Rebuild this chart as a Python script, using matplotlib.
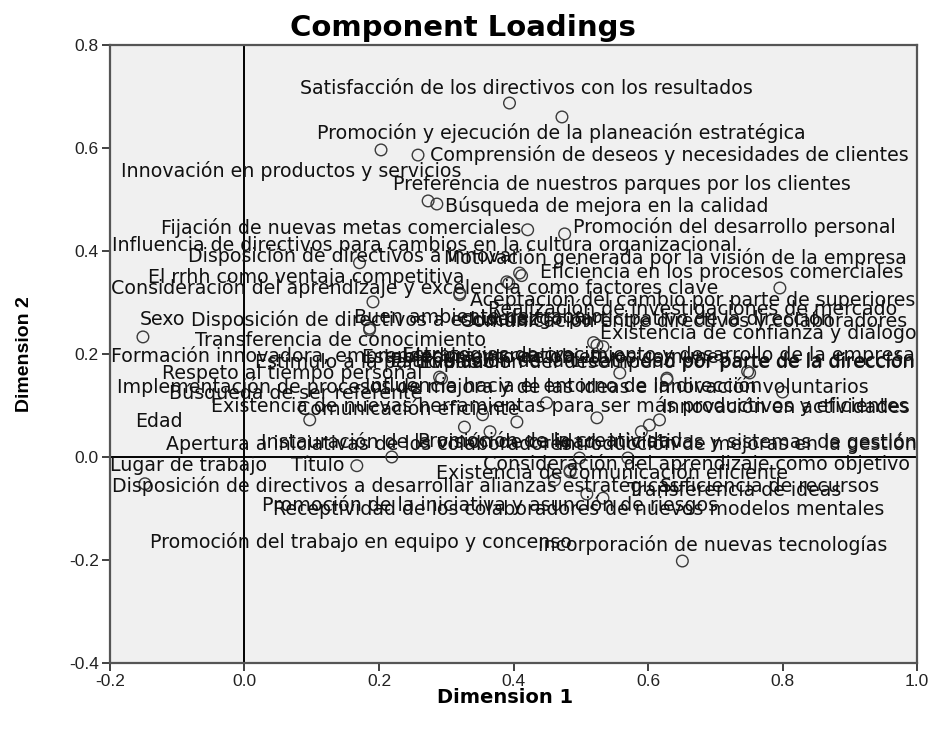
import matplotlib
matplotlib.use("Agg")
import matplotlib.pyplot as plt

plt.rcParams['font.family'] = ['Liberation Sans', 'DejaVu Sans']

# component loadings
dim1 = [0.394, 0.472, 0.203, 0.258, 0.273, 0.286, 0.421, 0.476, 0.171, 0.409,
        0.390, 0.320, 0.796, 0.191, 0.186, -0.151, 0.524, 0.533, 0.290, 0.558,
        0.628, 0.751, 0.800, 0.097, 0.449, 0.354, 0.405, 0.327, 0.365, 0.524,
        0.590, 0.602, 0.617, 0.219, 0.167, 0.570, 0.498, 0.509, 0.533, -0.148,
        0.484, 0.461, 0.484, 0.651, 0.412, 0.519, 0.628, 0.393, 0.293, 0.748,
        0.320, 0.186]
dim2 = [0.687, 0.660, 0.596, 0.586, 0.497, 0.491, 0.441, 0.433, 0.377, 0.357,
        0.340, 0.318, 0.328, 0.301, 0.247, 0.233, 0.217, 0.214, 0.155, 0.163,
        0.153, 0.163, 0.126, 0.072, 0.105, 0.082, 0.068, 0.058, 0.049, 0.076,
        0.049, 0.062, 0.072, 0.000, -0.017, -0.002, -0.002, -0.072, -0.080, -0.052,
        -0.029, -0.045, -0.026, -0.202, 0.352, 0.222, 0.150, 0.337, 0.152, 0.166,
        0.315, 0.250]
variables = [
    "Satisfacción de los directivos con los resultados",
    "Promoción y ejecución de la planeación estratégica",
    "Innovación en productos y servicios",
    "Comprensión de deseos y necesidades de clientes",
    "Preferencia de nuestros parques por los clientes",
    "Búsqueda de mejora en la calidad",
    "Fijación de nuevas metas comerciales",
    "Promoción del desarrollo personal",
    "Disposición de directivos a innovar",
    "Eficiencia en los procesos comerciales",
    "Motivación generada por la visión de la empresa",
    "Aceptación del cambio por parte de superiores",
    "Realización de investigaciones de mercado",
    "El rrhh como ventaja competitiva",
    "Transferencia de conocimiento",
    "Sexo",
    "Existencia de confianza y diálogo",
    "Consideración del aprendizaje y excelencia como factores clave",
    "Respeto al tiempo personal",
    "Estimulación de la creatividad por parte de la dirección",
    "Formación innovadora, emprendedora y creativa",
    "Estrategias de crecimiento y desarrollo de la empresa",
    "Implementación de procesos de mejora y de las ideas e innovación voluntarios",
    "Edad",
    "Existencia de nuevas herramientas para ser más productivos y eficientes",
    "Comunicación eficiente",
    "Innovación en actividades",
    "Búsqueda de ser referente",
    "Influencia hacia el entorno de la dirección",
    "Promoción de la creatividad",
    "Apertura a iniciativas de los colaboradores",
    "Instauración de la visión de calidad, iniciativas y sistemas de gestión",
    "Introducción de mejoras en la gestión",
    "Disposición de directivos a desarrollar alianzas estratégicas",
    "Título",
    "Consideración del aprendizaje como objetivo",
    "Existencia de comunicación eficiente",
    "Transferencia de ideas",
    "Suficiencia de recursos",
    "Lugar de trabajo",
    "Promoción de la iniciativa y asunción de riesgos",
    "Receptividad de los colaboradores de nuevos modelos mentales",
    "Promoción del trabajo en equipo y concenso",
    "Incorporación de nuevas tecnologías",
    "Influencia de directivos para cambios en la cultura organizacional.",
    "Buen ambiente de trabajo",
    "Comunicación entre directivos y colaboradores",
    "Liderazgo participativo de la dirección",
    "Establecimiento de objetivos comunes",
    "Evaluación del desempeño por parte de la dirección",
    "Estímulo a la participación",
    "Disposición de directivos a escuchar",
]

# label placement (pixel offsets from each marker, alignment)
label_offsets = [
    (-210, 15, 'left'), (-245, -16, 'left'), (-260, -21, 'left'), (12, 0, 'left'),
    (-35, 16, 'left'), (8, -2, 'left'), (-6, 2, 'right'), (8, 7, 'left'),
    (-172, 7, 'left'), (20, 1, 'left'), (400, 24, 'right'), (10, -7, 'left'),
    (117, -21, 'right'), (-225, 24, 'left'), (-175, -11, 'left'), (-3, 17, 'left'),
    (3, 12, 'left'), (-492, 59, 'left'), (-278, 4, 'left'), (295, 12, 'right'),
    (-556, 22, 'left'), (165, 17, 'right'), (-666, 5, 'left'), (-175, -2, 'left'),
    (-335, -3, 'left'), (-186, 5, 'left'), (393, 14, 'right'), (-295, 34, 'left'),
    (-125, 45, 'left'), (-179, -24, 'left'), (-475, -13, 'left'), (267, -17, 'right'),
    (257, -24, 'right'), (-280, -29, 'left'), (-12, 0, 'right'), (-145, -6, 'left'),
    (-143, -16, 'left'), (41, 4, 'left'), (57, 12, 'left'), (-35, 18, 'left'),
    (-308, -33, 'left'), (-282, -29, 'left'), (-420, -72, 'left'), (-144, 16, 'left'),
    (-410, 30, 'left'), (-240, 25, 'left'), (240, 59, 'right'), (-39, -36, 'left'),
    (-80, 21, 'left'), (167, 9, 'right'), (-205, -67, 'left'), (-179, 8, 'left'),
]

fig = plt.figure(figsize=(9.44, 7.29), dpi=100)
ax = fig.add_axes([0.1165, 0.0905, 0.855, 0.848])
ax.set_facecolor('#f0f0f0')

ax.axvline(0, color='black', lw=1.4, zorder=1)
ax.axhline(0, color='black', lw=1.4, zorder=1)

ax.scatter(dim1, dim2, s=70, facecolors='none', edgecolors='#3a3a3a',
           linewidths=1.0, zorder=3)

for x, y, name, (dx, dy, ha) in zip(dim1, dim2, variables, label_offsets):
    ax.annotate(name, (x, y), xytext=(dx, dy), textcoords='offset pixels',
                ha=ha, va='center', fontsize=13.7, color='#111111', zorder=4,
                family=['DejaVu Sans'])

ax.set_xlim(-0.2, 1.0)
ax.set_ylim(-0.4, 0.8)
ax.set_xticks([-0.2, 0.0, 0.2, 0.4, 0.6, 0.8, 1.0])
ax.set_yticks([-0.4, -0.2, 0.0, 0.2, 0.4, 0.6, 0.8])
ax.set_xticklabels(['-0.2', '0.0', '0.2', '0.4', '0.6', '0.8', '1.0'])
ax.set_yticklabels(['-0.4', '-0.2', '0.0', '0.2', '0.4', '0.6', '0.8'])
ax.tick_params(direction='out', length=6, width=1.3, color='#333333', pad=2,
               labelsize=12.5, labelcolor='#222222')
for sp in ax.spines.values():
    sp.set_color('#555555')
    sp.set_linewidth(1.6)

fig.text(0.49, 0.961, 'Component Loadings', fontsize=21, fontweight='bold',
         ha='center', va='center', family=['DejaVu Sans'])
fig.text(0.535, 0.043, 'Dimension 1', fontsize=14, fontweight='bold',
         ha='center', va='center', family=['DejaVu Sans'])
ax.set_ylabel('Dimension 2', fontsize=14, fontweight='bold', labelpad=26)

fig.savefig('out.png', dpi=100)
